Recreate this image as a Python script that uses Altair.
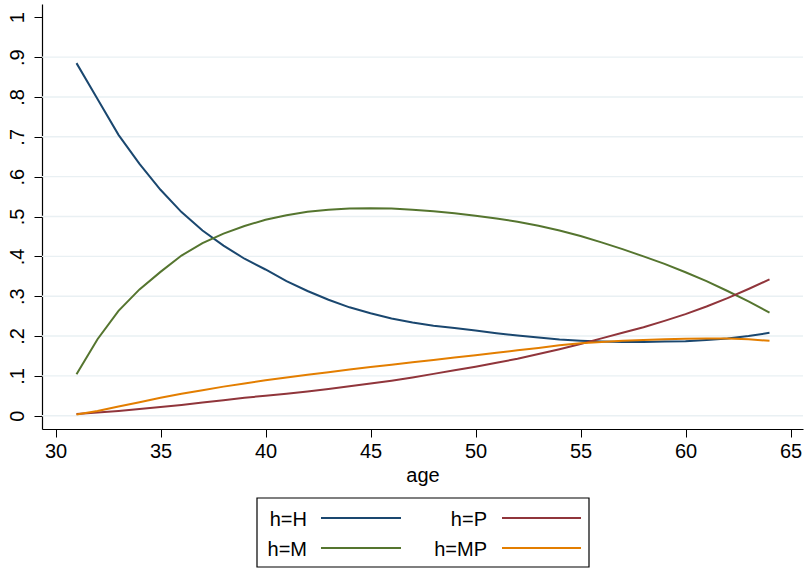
import altair as alt
import pandas as pd

# Predicted share of each household type by age
ages = list(range(31, 65))
h_H = [0.885, 0.795, 0.705, 0.632, 0.567, 0.511, 0.465, 0.427, 0.394, 0.367,
       0.338, 0.313, 0.291, 0.272, 0.257, 0.244, 0.234, 0.226, 0.220, 0.214,
       0.207, 0.201, 0.196, 0.191, 0.188, 0.186, 0.185, 0.185, 0.186, 0.187,
       0.190, 0.194, 0.200, 0.208]
h_M = [0.104, 0.192, 0.263, 0.317, 0.361, 0.402, 0.433, 0.457, 0.476, 0.492,
       0.503, 0.512, 0.517, 0.520, 0.521, 0.520, 0.517, 0.513, 0.508, 0.502,
       0.495, 0.487, 0.477, 0.465, 0.451, 0.435, 0.418, 0.400, 0.381, 0.360,
       0.338, 0.313, 0.287, 0.259]
h_P = [0.004, 0.008, 0.012, 0.017, 0.022, 0.027, 0.033, 0.039, 0.045, 0.050,
       0.055, 0.061, 0.067, 0.074, 0.081, 0.088, 0.096, 0.105, 0.114, 0.123,
       0.133, 0.143, 0.155, 0.167, 0.180, 0.194, 0.208, 0.222, 0.238, 0.255,
       0.274, 0.295, 0.318, 0.342]
h_MP = [0.003, 0.012, 0.023, 0.034, 0.045, 0.055, 0.064, 0.073, 0.081, 0.089,
        0.096, 0.103, 0.109, 0.116, 0.122, 0.128, 0.134, 0.140, 0.146, 0.152,
        0.158, 0.164, 0.170, 0.177, 0.182, 0.185, 0.188, 0.190, 0.192, 0.193,
        0.194, 0.194, 0.192, 0.188]

series_names = ["h=H", "h=M", "h=P", "h=MP"]
series_colors = ["#1a476f", "#55752f", "#90353b", "#e37e00"]

x_ticks = [30, 35, 40, 45, 50, 55, 60, 65]
y_ticks = [0.0, 0.1, 0.2, 0.3, 0.4, 0.5, 0.6, 0.7, 0.8, 0.9, 1.0]
y_tick_labels = ["0", ".1", ".2", ".3", ".4", ".5", ".6", ".7", ".8", ".9", "1"]
grid_values = y_ticks[:-1]

FONT = "Liberation Sans"
W, H = 761, 425

long = pd.DataFrame({
    "age": ages * 4,
    "share": h_H + h_M + h_P + h_MP,
    "h": [n for n in series_names for _ in ages],
})

x_scale = alt.Scale(domain=[29.357, 65.595], nice=False, zero=False)
y_scale = alt.Scale(domain=[-0.0334, 1.0334], nice=False, zero=False)

label_expr = "[" + ",".join(f"'{s}'" for s in y_tick_labels) + "][round(datum.value * 10)]"

y_axis = alt.Axis(values=y_ticks, title=None, grid=False,
                  labelExpr=label_expr, labelAngle=270,
                  labelAlign="center", labelBaseline="alphabetic",
                  tickSize=8, tickColor="#000", tickWidth=1,
                  domainColor="#000", domainWidth=1.2,
                  labelFont=FONT, labelFontSize=20, labelColor="#000",
                  labelPadding=11)
x_axis = alt.Axis(values=x_ticks, title="age", grid=False,
                  tickSize=8, tickColor="#000", tickWidth=1,
                  domainColor="#000", domainWidth=1.2,
                  labelFont=FONT, labelFontSize=20, labelColor="#000",
                  labelPadding=4, titleFont=FONT, titleFontSize=20,
                  titleFontWeight="normal", titleColor="#000",
                  titlePadding=4)

grid = alt.Chart(pd.DataFrame({"share": grid_values})).mark_rule(
    color="#e9f0f3", strokeWidth=1.4
).encode(y=alt.Y("share:Q", scale=y_scale, axis=y_axis))

lines = alt.Chart(long).mark_line(strokeWidth=2).encode(
    x=alt.X("age:Q", scale=x_scale, axis=x_axis),
    y=alt.Y("share:Q", scale=y_scale, axis=y_axis),
    color=alt.Color("h:N", scale=alt.Scale(domain=series_names, range=series_colors),
                    legend=None),
)

# Boxed two-column key below the axis title (plot-relative pixels)
box = (215, 494, 547, 563)
label_right = [265, 445]
line_span = [(279, 359), (460, 539)]
row_line_y = [514, 544]
row_text_y = [522, 552]

one = pd.DataFrame({"k": [0]})
key_layers = [
    alt.Chart(one).mark_rect(filled=False, stroke="#000", strokeWidth=1.2).encode(
        x=alt.value(box[0]), x2=alt.value(box[2]),
        y=alt.value(box[1]), y2=alt.value(box[3]))
]
for i, (name, color) in enumerate(zip(series_names, series_colors)):
    col, row = i // 2, i % 2
    key_layers.append(
        alt.Chart(one).mark_text(text=name, font=FONT, fontSize=20, color="#000",
                                 align="right", baseline="alphabetic").encode(
            x=alt.value(label_right[col]), y=alt.value(row_text_y[row])))
    key_layers.append(
        alt.Chart(one).mark_rule(color=color, strokeWidth=2).encode(
            x=alt.value(line_span[col][0]), x2=alt.value(line_span[col][1]),
            y=alt.value(row_line_y[row])))

chart = alt.layer(grid, lines, *key_layers).properties(
    width=W, height=H, autosize="none",
    padding={"left": 42, "top": 4, "right": 1, "bottom": 140},
    background="white",
).configure_view(stroke=None)

chart.save("out.html", embed_options={"renderer": "svg", "actions": False})
